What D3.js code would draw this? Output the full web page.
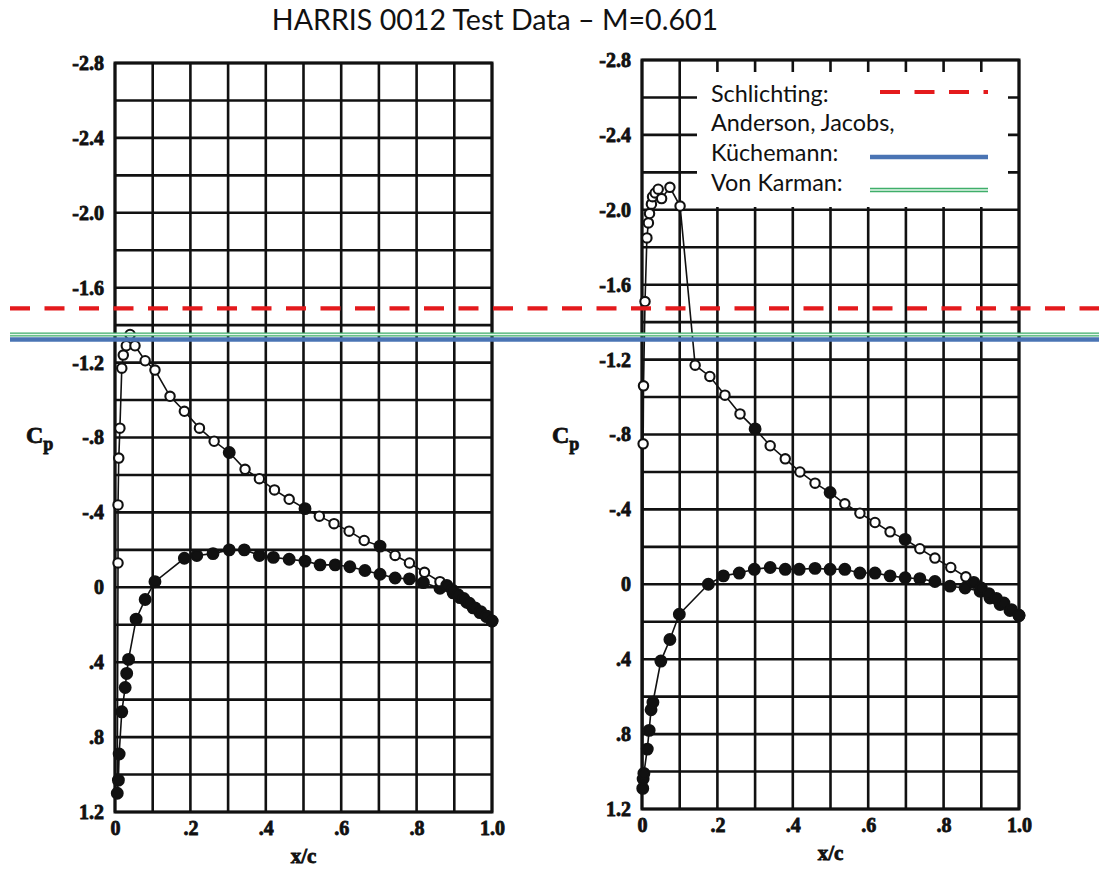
<!DOCTYPE html>
<html>
<head>
<meta charset="utf-8">
<script src="https://cdn.jsdelivr.net/npm/d3@7"></script>
<style>
  body { margin: 0; background: #fff; }
  svg { display: block; }
</style>
</head>
<body>
<svg id="chart" width="1099" height="871"></svg>
<script>
// ---- data ----
const titleText = "HARRIS 0012 Test Data \u2013 M=0.601";

const yTickValues = [-2.8, -2.4, -2.0, -1.6, -1.2, -0.8, -0.4, 0, 0.4, 0.8, 1.2];
const yTickLabels = ["-2.8", "-2.4", "-2.0", "-1.6", "-1.2", "-.8", "-.4", "0", ".4", ".8", "1.2"];
const xTickValues = [0, 0.2, 0.4, 0.6, 0.8, 1.0];
const xTickLabels = ["0", ".2", ".4", ".6", ".8", "1.0"];

// left plot, upper surface (o = open circle, f = filled)
const leftUpperX = [0.008, 0.008, 0.010, 0.013, 0.018, 0.022, 0.030, 0.040, 0.053, 0.080,
  0.106, 0.146, 0.184, 0.224, 0.263, 0.303, 0.345, 0.383, 0.423, 0.462,
  0.504, 0.542, 0.581, 0.621, 0.661, 0.703, 0.743, 0.781, 0.821, 0.862,
  0.880, 0.895, 0.910, 0.925, 0.940, 0.955, 0.970, 0.985, 1.000];
const leftUpperCp = [-0.13, -0.44, -0.69, -0.85, -1.17, -1.24, -1.29, -1.35, -1.29, -1.21,
  -1.16, -1.02, -0.94, -0.85, -0.78, -0.72, -0.63, -0.58, -0.52, -0.47,
  -0.42, -0.38, -0.34, -0.30, -0.25, -0.22, -0.17, -0.13, -0.08, -0.03,
  -0.01, 0.015, 0.04, 0.06, 0.085, 0.11, 0.13, 0.155, 0.18];
const leftUpperMark = ["o","o","o","o","o","o","o","o","o","o",
  "o","o","o","o","o","f","o","o","o","o",
  "f","o","o","o","o","f","o","o","o","o",
  "f","f","f","f","f","f","f","f","f"];

// left plot, lower surface
const leftLowerX = [0.006, 0.009, 0.011, 0.018, 0.027, 0.031, 0.036, 0.056, 0.080, 0.106,
  0.184, 0.217, 0.260, 0.303, 0.343, 0.383, 0.420, 0.462, 0.504, 0.544,
  0.584, 0.623, 0.663, 0.703, 0.743, 0.781, 0.818, 0.862, 0.897, 0.915,
  0.933, 0.950, 0.968, 0.986, 1.000];
const leftLowerCp = [1.10, 1.03, 0.89, 0.665, 0.535, 0.46, 0.385, 0.17, 0.065, -0.03,
  -0.155, -0.17, -0.18, -0.20, -0.20, -0.17, -0.16, -0.15, -0.14, -0.12,
  -0.12, -0.11, -0.09, -0.07, -0.05, -0.045, -0.025, 0.005, 0.03, 0.055,
  0.08, 0.11, 0.135, 0.155, 0.18];

// right plot, upper surface
const rightUpperX = [0.003, 0.004, 0.008, 0.013, 0.017, 0.020, 0.025, 0.028, 0.035, 0.043,
  0.052, 0.074, 0.101, 0.141, 0.180, 0.220, 0.260, 0.300, 0.340, 0.380,
  0.419, 0.459, 0.499, 0.538, 0.578, 0.618, 0.658, 0.698, 0.737, 0.777,
  0.819, 0.859, 0.880, 0.900, 0.920, 0.940, 0.960, 0.980, 1.000];
const rightUpperCp = [-0.75, -1.06, -1.51, -1.85, -1.93, -1.98, -2.03, -2.07, -2.09, -2.11,
  -2.06, -2.12, -2.02, -1.17, -1.11, -1.01, -0.91, -0.83, -0.74, -0.67,
  -0.60, -0.54, -0.49, -0.43, -0.38, -0.33, -0.28, -0.24, -0.19, -0.14,
  -0.09, -0.04, -0.01, 0.02, 0.05, 0.075, 0.10, 0.135, 0.165];
const rightUpperMark = ["o","o","o","o","o","o","o","o","o","o",
  "o","o","o","o","o","o","o","f","o","o",
  "o","o","f","o","o","o","o","f","o","o",
  "o","o","f","f","f","f","f","f","f"];

// right plot, lower surface
const rightLowerX = [0.002, 0.003, 0.005, 0.014, 0.019, 0.024, 0.029, 0.050, 0.074, 0.099,
  0.176, 0.216, 0.258, 0.298, 0.340, 0.380, 0.417, 0.459, 0.499, 0.538,
  0.578, 0.618, 0.658, 0.698, 0.737, 0.777, 0.817, 0.857, 0.897, 0.923,
  0.950, 0.976, 1.000];
const rightLowerCp = [1.09, 1.04, 1.01, 0.88, 0.78, 0.67, 0.63, 0.41, 0.295, 0.16,
  0.0, -0.045, -0.06, -0.08, -0.09, -0.08, -0.08, -0.085, -0.08, -0.08,
  -0.06, -0.06, -0.045, -0.035, -0.03, -0.015, 0.01, 0.02, 0.037, 0.073,
  0.108, 0.14, 0.167];

// critical Cp estimates drawn across the figure
const refNames = ["Schlichting:", "Anderson, Jacobs,", "K\u00fcchemann:", "Von Karman:"];
const refCp = { schlichting: -1.49, vonKarman: -1.35, anderson: -1.323 };

// ---- drawing ----
const svg = d3.select("#chart");
const serif = "'Liberation Serif', 'DejaVu Serif', serif";
const sans = "Lato, 'Open Sans', sans-serif";

const panels = [
  { left: 115, right: 492, top: 63, bottom: 812, cpX: 26, cpY: 443,
    upX: leftUpperX, upCp: leftUpperCp, upMark: leftUpperMark, loX: leftLowerX, loCp: leftLowerCp },
  { left: 642, right: 1019, top: 60, bottom: 809, cpX: 552, cpY: 443,
    upX: rightUpperX, upCp: rightUpperCp, upMark: rightUpperMark, loX: rightLowerX, loCp: rightLowerCp }
];

function heavy(sel, size) {
  sel.attr("font-family", serif).attr("font-weight", "bold").attr("font-size", size)
    .attr("fill", "#111").attr("stroke", "#111").attr("stroke-width", 0.8);
}

let yMain;
panels.forEach((p, i) => {
  const x = d3.scaleLinear().domain([0, 1]).range([p.left, p.right]);
  const y = d3.scaleLinear().domain([-2.8, 1.2]).range([p.top, p.bottom]);
  if (i === 0) yMain = y;
  const g = svg.append("g");

  // grid every 0.1 in x and 0.2 in Cp
  const gridG = g.append("g").attr("stroke", "#111").attr("stroke-width", 2.6);
  gridG.selectAll("line.v").data(d3.range(0, 11).map(k => k / 10)).join("line")
    .attr("x1", d => x(d)).attr("x2", d => x(d))
    .attr("y1", p.top).attr("y2", p.bottom);
  gridG.selectAll("line.h").data(d3.range(0, 21).map(k => -2.8 + k * 0.2)).join("line")
    .attr("x1", p.left).attr("x2", p.right)
    .attr("y1", d => y(d)).attr("y2", d => y(d));
  g.append("rect")
    .attr("x", p.left).attr("y", p.top)
    .attr("width", p.right - p.left).attr("height", p.bottom - p.top)
    .attr("fill", "none").attr("stroke", "#111").attr("stroke-width", 3);

  // y tick labels
  const yAxis = d3.axisLeft(y).tickValues(yTickValues)
    .tickFormat((d, k) => yTickLabels[k]).tickSize(0).tickPadding(11);
  const ya = g.append("g").attr("transform", `translate(${p.left},0)`).call(yAxis);
  ya.select(".domain").remove();
  heavy(ya.selectAll("text"), 20);
  ya.attr("font-family", null);

  // x tick labels
  const xAxis = d3.axisBottom(x).tickValues(xTickValues)
    .tickFormat((d, k) => xTickLabels[k]).tickSize(0).tickPadding(9);
  const xa = g.append("g").attr("transform", `translate(0,${p.bottom})`).call(xAxis);
  xa.select(".domain").remove();
  heavy(xa.selectAll("text"), 20);

  // axis titles
  heavy(g.append("text").attr("x", (p.left + p.right) / 2).attr("y", p.bottom + 51)
    .attr("text-anchor", "middle").text("x/c"), 21);
  const cp = g.append("text").attr("x", p.cpX).attr("y", p.cpY);
  heavy(cp, 24);
  cp.append("tspan").text("C");
  cp.append("tspan").attr("font-size", 18).attr("dy", 7).text("p");

  // data
  const upper = p.upX.map((v, k) => ({ x: v, cp: p.upCp[k], m: p.upMark[k] }));
  const lower = p.loX.map((v, k) => ({ x: v, cp: p.loCp[k], m: "f" }));
  const path = lower.slice().reverse().concat(upper);
  const line = d3.line().x(d => x(d.x)).y(d => y(d.cp));
  g.append("path").datum(path).attr("d", line)
    .attr("fill", "none").attr("stroke", "#111").attr("stroke-width", 1.6);
  g.selectAll("circle.pt").data(lower.concat(upper)).join("circle")
    .attr("cx", d => x(d.x)).attr("cy", d => y(d.cp))
    .attr("r", d => d.m === "f" ? 5.4 : 4.7)
    .attr("fill", d => d.m === "f" ? "#111" : "#fff")
    .attr("stroke", "#111").attr("stroke-width", 2.1);
});

// reference lines across the whole figure
const lineX0 = 10, lineX1 = 1099;
svg.append("line").attr("x1", lineX0).attr("x2", lineX1)
  .attr("y1", yMain(refCp.vonKarman)).attr("y2", yMain(refCp.vonKarman))
  .attr("stroke", "#3fae6a").attr("stroke-width", 4.2);
svg.append("line").attr("x1", lineX0).attr("x2", lineX1)
  .attr("y1", yMain(refCp.vonKarman)).attr("y2", yMain(refCp.vonKarman))
  .attr("stroke", "#e8f6ee").attr("stroke-width", 1.4);
svg.append("line").attr("x1", lineX0).attr("x2", lineX1)
  .attr("y1", yMain(refCp.anderson)).attr("y2", yMain(refCp.anderson))
  .attr("stroke", "#4a74b4").attr("stroke-width", 4.6);
svg.append("line").attr("x1", lineX0).attr("x2", lineX1)
  .attr("y1", yMain(refCp.schlichting)).attr("y2", yMain(refCp.schlichting))
  .attr("stroke", "#e41a1c").attr("stroke-width", 4.2).attr("stroke-dasharray", "20,14.5");

// legend box
const lg = svg.append("g");
lg.append("rect").attr("x", 697).attr("y", 72).attr("width", 311).attr("height", 135).attr("fill", "#fff");
const lgBase = [102, 131, 161, 191];
lg.selectAll("text").data(refNames).join("text")
  .attr("x", 711).attr("y", (d, k) => lgBase[k])
  .attr("font-family", sans).attr("font-size", 23.4).attr("fill", "#111").text(d => d);
lg.append("line").attr("x1", 880).attr("x2", 988).attr("y1", 92).attr("y2", 92)
  .attr("stroke", "#e41a1c").attr("stroke-width", 4.2).attr("stroke-dasharray", "20,14.5");
lg.append("line").attr("x1", 870).attr("x2", 988).attr("y1", 157).attr("y2", 157)
  .attr("stroke", "#4a74b4").attr("stroke-width", 4.6);
lg.append("line").attr("x1", 870).attr("x2", 988).attr("y1", 190).attr("y2", 190)
  .attr("stroke", "#3fae6a").attr("stroke-width", 4.4);
lg.append("line").attr("x1", 870).attr("x2", 988).attr("y1", 190).attr("y2", 190)
  .attr("stroke", "#e8f6ee").attr("stroke-width", 1.6);

// title
svg.append("text").attr("x", 495).attr("y", 30).attr("text-anchor", "middle")
  .attr("font-family", sans).attr("font-size", 28.6).attr("fill", "#111").text(titleText);
</script>
</body>
</html>
